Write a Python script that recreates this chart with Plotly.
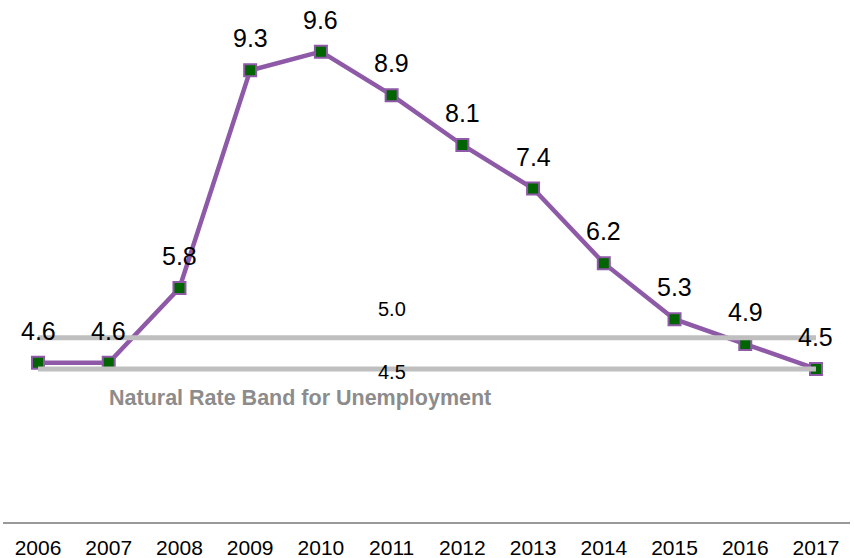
import plotly.graph_objects as go

years = [2006, 2007, 2008, 2009, 2010, 2011, 2012, 2013, 2014, 2015, 2016, 2017]
rates = [4.6, 4.6, 5.8, 9.3, 9.6, 8.9, 8.1, 7.4, 6.2, 5.3, 4.9, 4.5]
rate_labels = [f"{v:.1f}" for v in rates]
band_upper = 5.0
band_lower = 4.5
band_title = "Natural Rate Band for Unemployment"

FONT = "Liberation Sans, Arial"

fig = go.Figure()

fig.add_trace(go.Scatter(
    x=years, y=rates, mode="lines+markers",
    line=dict(color="#8E5AA8", width=4.5),
    marker=dict(symbol="square", size=12, color="#006400",
                line=dict(color="#8E5AA8", width=2)),
    cliponaxis=False, showlegend=False, hoverinfo="x+y",
))

for val in (band_upper, band_lower):
    fig.add_trace(go.Scatter(
        x=[years[0], years[-1]], y=[val, val], mode="lines",
        line=dict(color="#BFBFBF", width=5),
        showlegend=False, hoverinfo="skip",
    ))

for x, y, t in zip(years, rates, rate_labels):
    fig.add_annotation(x=x, y=y, text=t, showarrow=False, yshift=32,
                       font=dict(family=FONT, size=25, color="#000000"))

fig.add_annotation(x=2011, y=band_upper, text=f"{band_upper:.1f}", showarrow=False,
                   yshift=29, font=dict(family=FONT, size=20, color="#000000"))
fig.add_annotation(x=2011, y=band_lower, text=f"{band_lower:.1f}", showarrow=False,
                   yshift=-3, font=dict(family=FONT, size=20, color="#000000"))
fig.add_annotation(x=2009.70, y=band_lower, text=f"<b>{band_title}</b>", showarrow=False,
                   yshift=-29, font=dict(family=FONT, size=21.5, color="#8C8C8C"))

fig.update_layout(
    width=854, height=558,
    margin=dict(l=3, r=4, t=0, b=36, autoexpand=False),
    paper_bgcolor="white", plot_bgcolor="white",
    xaxis=dict(range=[2005.505, 2017.481], tickmode="array", tickvals=years,
               ticktext=[str(y) for y in years], showgrid=False, zeroline=False,
               showline=True, linecolor="#999999", linewidth=2,
               ticks="outside", ticklen=6, tickcolor="rgba(0,0,0,0)",
               automargin=False,
               tickfont=dict(family=FONT, size=21, color="#000000")),
    yaxis=dict(range=[2.04, 10.43], visible=False, showgrid=False, zeroline=False,
               automargin=False),
    font=dict(family=FONT),
)

fig.write_html("out.html")
